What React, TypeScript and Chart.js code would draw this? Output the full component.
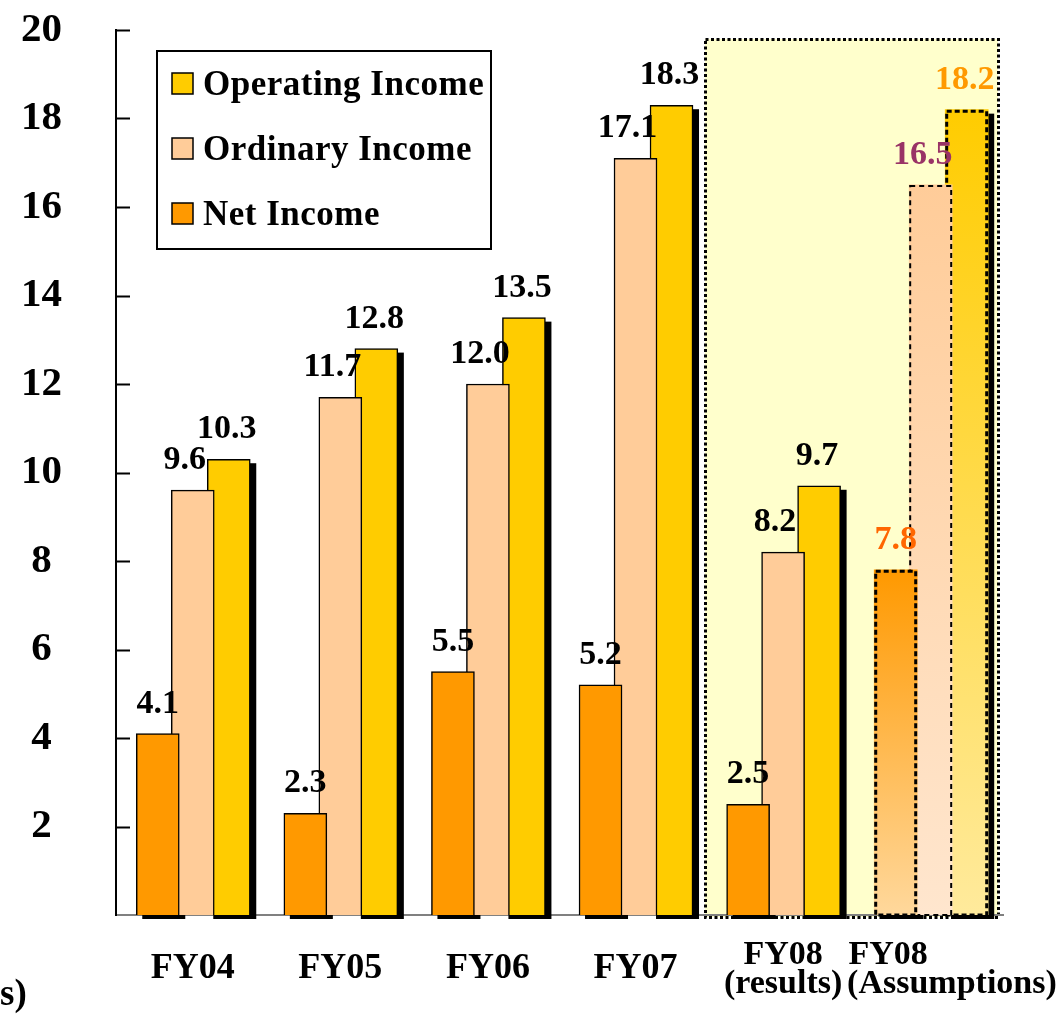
import React, { useEffect, useRef } from 'react';
import { Chart, registerables } from 'chart.js';

Chart.register(...registerables);

// ---------- data ----------
const categories: string[][] = [
  ['FY04'],
  ['FY05'],
  ['FY06'],
  ['FY07'],
  ['FY08', '(results)'],
  ['FY08', '(Assumptions)'],
];
const operatingIncome = [10.3, 12.8, 13.5, 18.3, 9.7, 18.2];
const ordinaryIncome = [9.6, 11.7, 12.0, 17.1, 8.2, 16.5];
const netIncome = [4.1, 2.3, 5.5, 5.2, 2.5, 7.8];
const yTickValues = [2, 4, 6, 8, 10, 12, 14, 16, 18, 20];
const legendNames = ['Operating Income', 'Ordinary Income', 'Net Income'];
const unitLabelTail = 's)';

// ---------- styling ----------
const FONT = '"Liberation Serif", "Times New Roman", Times, serif';
const NET_COLOR = '#FF9900';
const ORD_COLOR = '#FFCC99';
const OP_COLOR = '#FFCC00';
// series order in datasets: net (front), ordinary, operating (back)
const seriesValues = [netIncome, ordinaryIncome, operatingIncome];
const seriesNames = ['Net Income', 'Ordinary Income', 'Operating Income'];
const seriesColors = [NET_COLOR, ORD_COLOR, OP_COLOR];
const fadeColors = ['#FFD89C', '#FFE6CE', '#FFEA9C'];
const seriesOffsets = [-0.237, 0, 0.244];
const assumptionLabelColors = ['#FF6600', '#993366', '#FF9900'];
const assumptionDash = [[5, 3], [5, 4], [5, 3]];
const assumptionDashWidth = [3, 2, 3];
const labelShift = [0, -8, -2];
const ASSUMPTION_INDEX = categories.length - 1;
const HIGHLIGHT_X = [3.47, 5.456];
const HIGHLIGHT_TOP = 19.8;
const SHADOW_DX = 6;
const SHADOW_DY = 3;

const W = 1064;
const H = 1016;

// the last category label is typeset off-centre in the original
const tickLabel = (i: number): string[] => {
  const c = categories[i];
  if (!c) return [];
  if (i === ASSUMPTION_INDEX) return [c[0] + ' '.repeat(10), ' '.repeat(5) + c[1]];
  return c;
};

const highlightPlugin = {
  id: 'highlightBox',
  beforeDraw(chart: any) {
    const { ctx } = chart;
    const xs = chart.scales.x;
    const ys = chart.scales.y;
    const l = Math.round(xs.getPixelForValue(HIGHLIGHT_X[0]));
    const r = Math.round(xs.getPixelForValue(HIGHLIGHT_X[1]));
    const t = Math.round(ys.getPixelForValue(HIGHLIGHT_TOP));
    const b = Math.round(ys.bottom + 2);
    ctx.save();
    ctx.fillStyle = '#FFFFCC';
    ctx.fillRect(l, t, r - l, b - t);
    ctx.strokeStyle = '#000';
    ctx.lineWidth = 3;
    ctx.setLineDash([3, 2.5]);
    ctx.strokeRect(l + 0.5, t + 0.5, r - l, b - t);
    ctx.restore();
  },
};

const shadowPlugin = {
  id: 'barShadows',
  beforeDatasetsDraw(chart: any) {
    const { ctx } = chart;
    ctx.save();
    ctx.fillStyle = '#000';
    [0, 2].forEach((di) => {
      chart.getDatasetMeta(di).data.forEach((el: any) => {
        const { x, y, base, width } = el;
        ctx.fillRect(x - width / 2 + SHADOW_DX, y + SHADOW_DY + 1, width, base - y);
      });
    });
    // inner tick marks on the y axis
    const ys = chart.scales.y;
    ctx.strokeStyle = '#000';
    ctx.lineWidth = 2;
    yTickValues.forEach((v) => {
      const py = Math.round(ys.getPixelForValue(v)) + 0.5;
      ctx.beginPath();
      ctx.moveTo(ys.right - 1, py);
      ctx.lineTo(ys.right + 14, py);
      ctx.stroke();
    });
    ctx.restore();
  },
};

const dashedOutlinePlugin = {
  id: 'assumptionOutline',
  afterDatasetDraw(chart: any, args: any) {
    const di = args.index;
    const el: any = chart.getDatasetMeta(di).data[ASSUMPTION_INDEX];
    if (!el) return;
    const { ctx } = chart;
    const { x, y, base, width } = el;
    const lw = assumptionDashWidth[di];
    ctx.save();
    ctx.strokeStyle = '#000';
    ctx.lineWidth = lw;
    ctx.setLineDash(assumptionDash[di]);
    ctx.strokeRect(x - width / 2 + lw / 2, y + lw / 2, width - lw, base - y - lw / 2);
    ctx.restore();
  },
};

const dataLabelPlugin = {
  id: 'dataLabels',
  afterDatasetsDraw(chart: any) {
    const { ctx } = chart;
    ctx.save();
    ctx.font = `bold 34px ${FONT}`;
    ctx.textAlign = 'center';
    ctx.textBaseline = 'alphabetic';
    seriesValues.forEach((vals, di) => {
      chart.getDatasetMeta(di).data.forEach((el: any, i: number) => {
        ctx.fillStyle = i === ASSUMPTION_INDEX ? assumptionLabelColors[di] : '#000';
        ctx.fillText(vals[i].toFixed(1), el.x + labelShift[di], el.y - 21);
      });
    });
    ctx.restore();
  },
};

const legendPlugin = {
  id: 'boxLegend',
  afterDraw(chart: any) {
    const { ctx } = chart;
    ctx.save();
    ctx.fillStyle = '#fff';
    ctx.fillRect(157, 51, 334, 198);
    ctx.strokeStyle = '#000';
    ctx.lineWidth = 2;
    ctx.strokeRect(157, 51, 334, 198);
    const colors = [OP_COLOR, ORD_COLOR, NET_COLOR];
    ctx.font = `bold 35px ${FONT}`;
    ctx.textAlign = 'left';
    ctx.textBaseline = 'alphabetic';
    try { (ctx as any).letterSpacing = '0.5px'; } catch (e) { /* ignore */ }
    legendNames.forEach((name, i) => {
      const top = 73 + 65 * i;
      ctx.fillStyle = colors[i];
      ctx.fillRect(172, top, 21, 21);
      ctx.lineWidth = 1.5;
      ctx.strokeStyle = '#000';
      ctx.strokeRect(172, top, 21, 21);
      ctx.fillStyle = '#000';
      ctx.fillText(name, 203, top + 22);
    });
    try { (ctx as any).letterSpacing = '0px'; } catch (e) { /* ignore */ }
    // cut-off unit label at the bottom left
    ctx.font = `bold 37px ${FONT}`;
    ctx.fillText(unitLabelTail, 0, 1005);
    ctx.restore();
  },
};

export default function App() {
  const ref = useRef<HTMLCanvasElement | null>(null);

  useEffect(() => {
    if (!ref.current) return;
    const datasets = seriesValues.map((vals, s) => ({
      label: seriesNames[s],
      data: vals.map((v, i) => ({ x: i + seriesOffsets[s], y: v })),
      backgroundColor: (c: any) => {
        if (c.type !== 'data' || c.dataIndex !== ASSUMPTION_INDEX) return seriesColors[s];
        const chart = c.chart;
        if (!chart.chartArea || !chart.scales.y) return seriesColors[s];
        const ys = chart.scales.y;
        const top = ys.getPixelForValue(vals[c.dataIndex]);
        const bottom = ys.getPixelForValue(0);
        const g = chart.ctx.createLinearGradient(0, top, 0, bottom);
        g.addColorStop(0, seriesColors[s]);
        g.addColorStop(1, fadeColors[s]);
        return g;
      },
      borderColor: '#000',
      borderWidth: (c: any) => (c.dataIndex === ASSUMPTION_INDEX ? 0 : 1.5),
      barThickness: 43,
      grouped: false,
    }));

    const chart = new Chart(ref.current, {
      type: 'bar',
      data: { datasets } as any,
      options: {
        responsive: false,
        animation: false,
        devicePixelRatio: 1,
        layout: { padding: { top: 30, right: W - 1003, left: 0, bottom: 0 } },
        plugins: { legend: { display: false }, tooltip: { enabled: false } },
        font: { family: FONT },
        scales: {
          x: {
            type: 'linear',
            offset: false,
            min: -0.52,
            max: 5.49,
            grid: { display: false, drawTicks: false, offset: false },
            border: { display: true, color: '#808080', width: 2 },
            afterBuildTicks: (axis: any) => {
              axis.ticks = categories.map((_, i) => ({ value: i }));
            },
            afterFit: (axis: any) => {
              axis.height = H - 915;
              axis.paddingLeft = 0;
              axis.paddingRight = 0;
            },
            ticks: {
              autoSkip: false,
              maxRotation: 0,
              minRotation: 0,
              padding: 40,
              crossAlign: 'center',
              color: '#000',
              font: (c: any) => ({
                family: FONT,
                size: c.index >= 4 ? 34 : 36,
                weight: 'bold',
                lineHeight: 0.86,
              }),
              callback: (value: any) => tickLabel(Number(value)),
            },
          },
          y: {
            type: 'linear',
            min: 0,
            max: 20,
            grid: { display: false, drawTicks: false },
            border: { display: true, color: '#000', width: 2 },
            afterBuildTicks: (axis: any) => {
              axis.ticks = yTickValues.map((v) => ({ value: v }));
            },
            afterFit: (axis: any) => {
              axis.width = 116;
              axis.paddingTop = 0;
              axis.paddingBottom = 0;
            },
            ticks: {
              crossAlign: 'center',
              padding: 54,
              color: '#000',
              font: { family: FONT, size: 41, weight: 'bold' },
              callback: (v: any) => String(v),
            },
          },
        },
      } as any,
      plugins: [highlightPlugin, shadowPlugin, dashedOutlinePlugin, dataLabelPlugin, legendPlugin],
    });
    return () => chart.destroy();
  }, []);

  return (
    <div style={{ position: 'fixed', left: 0, top: 0, width: W, height: H, background: '#fff' }}>
      <canvas ref={ref} width={W} height={H} style={{ display: 'block' }} />
    </div>
  );
}
